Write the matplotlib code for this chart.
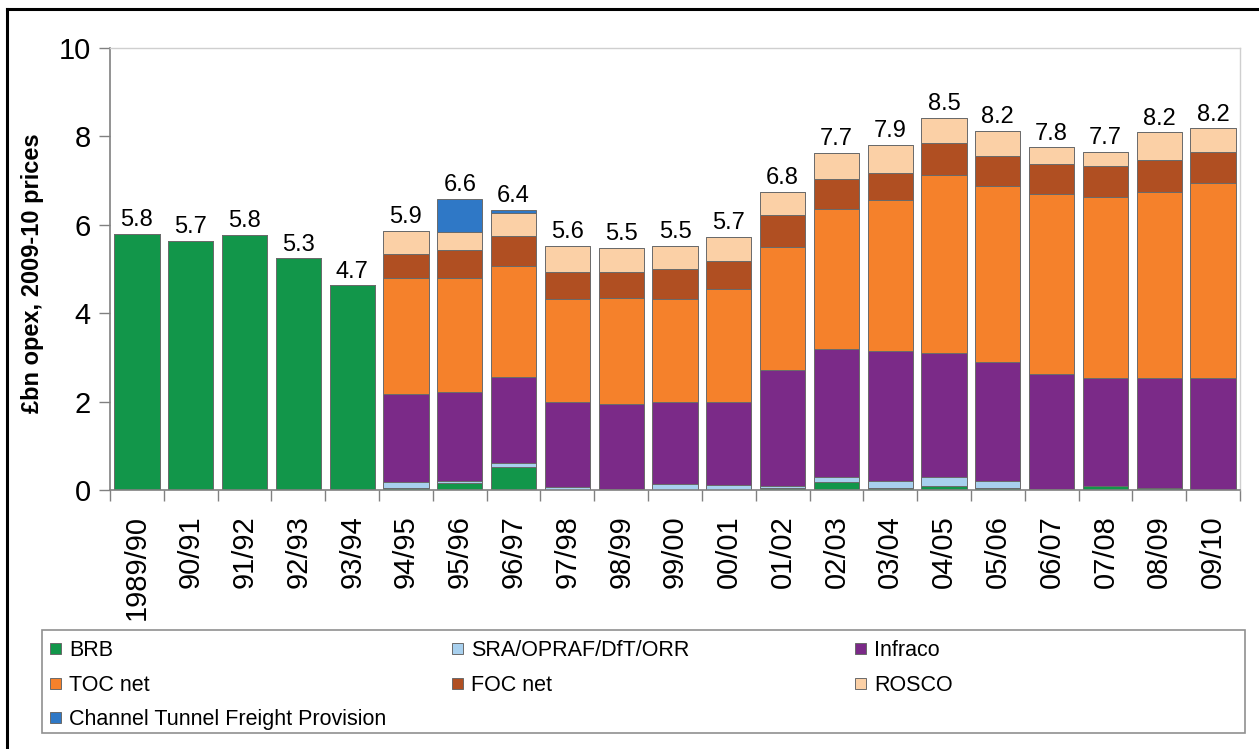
import matplotlib
matplotlib.use("Agg")
import matplotlib.pyplot as plt
from matplotlib.lines import Line2D
from matplotlib.patches import Rectangle
import numpy as np

plt.rcParams['font.family'] = ['Liberation Sans', 'DejaVu Sans']

categories = ['1989/90', '90/91', '91/92', '92/93', '93/94', '94/95', '95/96', '96/97',
              '97/98', '98/99', '99/00', '00/01', '01/02', '02/03', '03/04', '04/05',
              '05/06', '06/07', '07/08', '08/09', '09/10']

brb = [5.80, 5.63, 5.77, 5.24, 4.63, 0.04, 0.15, 0.51, 0.00, 0.00, 0.00, 0.00,
       0.05, 0.19, 0.04, 0.10, 0.04, 0.01, 0.09, 0.04, 0.01]
sra = [0, 0, 0, 0, 0, 0.14, 0.05, 0.09, 0.07, 0.02, 0.13, 0.11,
       0.05, 0.11, 0.17, 0.20, 0.17, 0.01, 0.00, 0.00, 0.00]
infraco = [0, 0, 0, 0, 0, 1.99, 2.02, 1.96, 1.92, 1.93, 1.86, 1.87,
           2.61, 2.88, 2.93, 2.79, 2.69, 2.60, 2.44, 2.49, 2.52]
toc = [0, 0, 0, 0, 0, 2.62, 2.57, 2.51, 2.32, 2.40, 2.32, 2.57,
       2.79, 3.18, 3.41, 4.04, 3.98, 4.08, 4.11, 4.21, 4.41]
foc = [0, 0, 0, 0, 0, 0.54, 0.64, 0.68, 0.63, 0.59, 0.69, 0.63,
       0.72, 0.68, 0.63, 0.71, 0.68, 0.68, 0.69, 0.73, 0.71]
rosco = [0, 0, 0, 0, 0, 0.53, 0.41, 0.52, 0.59, 0.54, 0.53, 0.54,
         0.53, 0.58, 0.63, 0.58, 0.57, 0.37, 0.32, 0.62, 0.53]
ctfp = [0, 0, 0, 0, 0, 0, 0.74, 0.06, 0, 0, 0, 0,
        0, 0, 0, 0, 0, 0, 0, 0, 0]

total_labels = ['5.8', '5.7', '5.8', '5.3', '4.7', '5.9', '6.6', '6.4', '5.6', '5.5', '5.5',
                '5.7', '6.8', '7.7', '7.9', '8.5', '8.2', '7.8', '7.7', '8.2', '8.2']

series_names = ['BRB', 'SRA/OPRAF/DfT/ORR', 'Infraco', 'TOC net', 'FOC net', 'ROSCO',
                'Channel Tunnel Freight Provision']
series_values = [brb, sra, infraco, toc, foc, rosco, ctfp]
series_colors = ['#12964a', '#a8d0ee', '#7b2a88', '#f5812b', '#b04f22', '#fbd0a6', '#2f78c6']

W, H = 1259, 749
fig = plt.figure(figsize=(W / 100, H / 100), dpi=100)
ax = fig.add_axes([110 / W, 1 - 490 / H, (1240 - 110) / W, (490 - 48) / H])

x = np.arange(len(categories))
bottom = np.zeros(len(categories))
for name, vals, col in zip(series_names, series_values, series_colors):
    v = np.array(vals, dtype=float)
    ax.bar(x, v, 0.84, bottom=bottom, color=col, edgecolor='#6a6a6a',
           linewidth=0.7, label=name)
    bottom = bottom + v

for xi, top, lab in zip(x, bottom, total_labels):
    ax.annotate(lab, (xi, top), xytext=(0, 2), textcoords='offset points',
                ha='center', va='bottom', fontsize=17, color='black')

ax.set_xlim(-0.5, len(categories) - 0.5)
ax.set_ylim(0, 10)
ax.set_yticks([0, 2, 4, 6, 8, 10])
ax.tick_params(axis='y', labelsize=21, length=8, color='#808080', width=1, pad=6)
ax.set_xticks(x)
ax.set_xticklabels(categories, rotation=90)
ax.tick_params(axis='x', which='major', length=0, labelsize=21, pad=18)
ax.set_xticks(np.arange(-0.5, len(categories), 1.0), minor=True)
ax.tick_params(axis='x', which='minor', length=8, color='#808080', width=1)

for s in ['left', 'bottom']:
    ax.spines[s].set_color('#808080')
    ax.spines[s].set_linewidth(1.2)
for s in ['top', 'right']:
    ax.spines[s].set_color('#cfcfcf')
    ax.spines[s].set_linewidth(1.0)

ax.set_ylabel('£bn opex, 2009-10 prices', fontsize=17, fontweight='bold')
ax.yaxis.set_label_coords((44 - 110) / 1130, 0.49)

# legend box (laid out like the original: three columns, filled row by row)
fig.add_artist(Rectangle((42 / W, 1 - 733 / H), (1245 - 42) / W, (733 - 630) / H,
                         transform=fig.transFigure, facecolor='white',
                         edgecolor='#909090', linewidth=1.2))
col_x = [50, 452, 855]
row_y = [648, 683, 717]
for i, (name, col) in enumerate(zip(series_names, series_colors)):
    cx = col_x[i % 3]
    cy = row_y[i // 3]
    fig.add_artist(Rectangle((cx / W, 1 - (cy + 5.5) / H), 11 / W, 11 / H,
                             transform=fig.transFigure, facecolor=col,
                             edgecolor='#6a6a6a', linewidth=0.7))
    fig.text((cx + 19) / W, 1 - cy / H, name, fontsize=15.5, ha='left',
             va='center_baseline', color='black')

# outer black frame
fig.add_artist(Line2D([7 / W, 7 / W], [0, 1 - 9 / H], color='black', lw=2.2,
                      transform=fig.transFigure))
fig.add_artist(Line2D([7 / W, 1], [1 - 9 / H, 1 - 9 / H], color='black', lw=2.2,
                      transform=fig.transFigure))

fig.savefig('out.png', dpi=100)
